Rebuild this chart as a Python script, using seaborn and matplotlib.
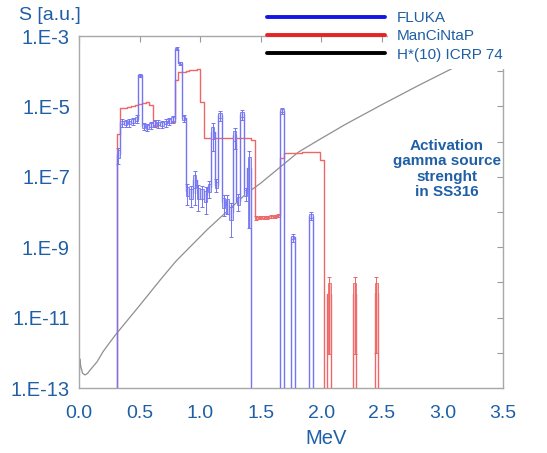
import numpy as np
import pandas as pd
import matplotlib
matplotlib.use("Agg")
import matplotlib.pyplot as plt
from matplotlib.patches import Rectangle
from matplotlib.lines import Line2D
from matplotlib.ticker import NullLocator
import seaborn as sns

# Energy grid shared by both spectra (MeV), 0.03 MeV bins
bin_edges = np.round(0.31 + 0.03 * np.arange(74), 2)

# FLUKA source strength per bin [a.u.] and relative statistical error
fluka_s = [
    4.5e-7, 3.5e-6, 3.4e-6, 3.5e-6, 3.8e-6, 4.5e-6, 7.6e-5, 2.8e-6, 2.6e-6, 3.0e-6,
    3.4e-6, 3.3e-6, 3.2e-6, 3.5e-6, 3.8e-6, 4.4e-6, 4.4e-4, 1.7e-4, 4.7e-6, 4.0e-8,
    3.4e-8, 7.9e-8, 3.5e-8, 3.4e-8, 3.0e-8, 5.0e-8, 1.9e-6, 6.0e-8, 5.6e-6, 1.9e-8,
    1.6e-8, 1.0e-8, 1.5e-6, 2.1e-8, 6.0e-6, 3.5e-8, 1.8e-7, 0, 0, 0,
    0, 0, 0, 0, 0, 7.6e-6, 0, 0, 1.9e-9, 0,
    0, 0, 0, 7.9e-9, 0, 0, 0, 0, 0, 0,
    0, 0, 0, 0, 0, 0, 0, 0, 0, 0,
    0, 0, 0,
]
fluka_rel_err = [
    0.25, 0.12, 0.12, 0.12, 0.12, 0.12, 0.06, 0.12, 0.12, 0.12,
    0.12, 0.12, 0.12, 0.12, 0.12, 0.12, 0.04, 0.05, 0.12, 0.30,
    0.30, 0.40, 0.35, 0.30, 0.35, 0.25, 0.36, 0.20, 0.15, 0.30,
    0.45, 0.40, 0.30, 0.25, 0.15, 0.20, 0.98, 0, 0, 0,
    0, 0, 0, 0, 0, 0.10, 0, 0, 0.12, 0,
    0, 0, 0, 0.12, 0, 0, 0, 0, 0, 0,
    0, 0, 0, 0, 0, 0, 0, 0, 0, 0,
    0, 0, 0,
]

# ManCiNtaP source strength per bin [a.u.] and relative error
mancintap_s = [
    1.66e-6, 8.9e-6, 9.3e-6, 9.8e-6, 1.05e-5, 1.12e-5, 1.17e-5, 1.26e-5, 1.32e-5, 1.07e-5,
    2.8e-6, 2.95e-6, 3.2e-6, 3.3e-6, 3.5e-6, 3.7e-6, 5.6e-5, 9.5e-5, 9.8e-5, 1.02e-4,
    1.05e-4, 1.07e-4, 1.12e-4, 1.35e-5, 1.25e-6, 1.25e-6, 1.24e-6, 1.25e-6, 1.26e-6, 1.25e-6,
    1.24e-6, 1.25e-6, 1.26e-6, 1.25e-6, 1.26e-6, 1.25e-6, 1.24e-6, 1.1e-6, 6.8e-9, 7.0e-9,
    7.2e-9, 7.0e-9, 7.3e-9, 7.5e-9, 7.8e-9, 3.5e-7, 4.8e-7, 4.8e-7, 4.9e-7, 4.9e-7,
    4.9e-7, 5.0e-7, 5.0e-7, 5.0e-7, 5.1e-7, 5.1e-7, 3.0e-7, 0, 4.7e-11, 0,
    0, 0, 0, 0, 0, 4.7e-11, 0, 0, 0, 0,
    0, 4.9e-11, 0,
]
mancintap_rel_err = [
    0, 0, 0, 0, 0, 0, 0, 0, 0, 0,
    0, 0, 0, 0, 0, 0, 0, 0, 0, 0,
    0, 0, 0, 0, 0, 0, 0, 0, 0, 0,
    0, 0, 0, 0, 0, 0, 0, 0, 0.05, 0.05,
    0.05, 0.05, 0.05, 0.05, 0.05, 0, 0, 0, 0, 0,
    0, 0, 0, 0, 0, 0, 0, 0, 0.98, 0,
    0, 0, 0, 0, 0, 0.98, 0, 0, 0, 0,
    0, 0.98, 0,
]

# H*(10) ICRP 74 conversion curve (arbitrary units)
h10_energy = [0.0, 0.006, 0.015, 0.03, 0.05, 0.07, 0.1, 0.15, 0.2, 0.3,
              0.5, 0.67, 0.8, 1.06, 1.38, 1.5, 1.81, 1.98, 2.2, 2.5,
              2.8, 3.1, 3.3]
h10_value = [5e-14, 6.8e-13, 4.0e-13, 2.6e-13, 2.35e-13, 2.6e-13, 3.5e-13, 5.6e-13, 1.1e-12, 3.2e-12,
             2.2e-11, 1.17e-10, 4.0e-10, 3.2e-9, 3.3e-8, 6.6e-8, 5.0e-7, 1.12e-6, 3.1e-6, 1.12e-5,
             3.9e-5, 1.29e-4, 2.75e-4]

y_exponents = list(range(-13, -2))
x_ticks = [0.0, 0.5, 1.0, 1.5, 2.0, 2.5, 3.0, 3.5]
x_ticklabels = ["0.0", "0.5", "1.0", "1.5", "2.0", "2.5", "3.0", "3.5"]

TEXT_BLUE = "#1f5fa5"
FLUKA_LINE = "#7575f2"
FLUKA_FILL = "#cfcffb"
MCN_LINE = "#ee6666"
MCN_FILL = "#f6b9b9"
FLOOR = 1e-14

sns.set_style("white")
plt.rcParams["font.family"] = ["Liberation Sans", "DejaVu Sans"]

fig = plt.figure(figsize=(5.47, 4.53), dpi=100)
ax = fig.add_axes([79 / 547, 65 / 453, 424 / 547, 352 / 453])
ax.set_yscale("log")


def step_frame(values):
    v = np.asarray(values, dtype=float)
    v = np.where(v > 0, v, FLOOR)
    x = np.concatenate([[bin_edges[0]], bin_edges])
    y = np.concatenate([[FLOOR], v, [FLOOR]])
    return pd.DataFrame({"E": x, "S": y})


def error_marks(values, rel, line_color, fill_color, z):
    v = np.asarray(values, dtype=float)
    r = np.asarray(rel, dtype=float)
    m = (v > 0) & (r > 0)
    centers = (bin_edges[:-1] + bin_edges[1:]) / 2
    widths = np.diff(bin_edges)
    lo = np.maximum(v * (1 - r), FLOOR)
    hi = v * (1 + r)
    ax.bar(centers[m], (hi - lo)[m], bottom=lo[m], width=0.9 * widths[m],
           color=fill_color, edgecolor=line_color, linewidth=0.6, zorder=z)
    w_hi = v * (1 + 2 * r)
    w_lo = np.where(r < 0.45, v * (1 - 2 * r), lo)
    ax.errorbar(centers[m], v[m], yerr=[v[m] - w_lo[m], w_hi[m] - v[m]],
                fmt="none", ecolor=line_color, elinewidth=0.7,
                capsize=1.6, capthick=0.7, zorder=z)


# H*(10) curve
sns.lineplot(x=h10_energy, y=h10_value, color="#8f8f8f", lw=0.9,
             estimator=None, sort=False, ax=ax, zorder=2)

# ManCiNtaP spectrum
sns.lineplot(data=step_frame(mancintap_s), x="E", y="S", drawstyle="steps-post",
             estimator=None, sort=False, color=MCN_LINE, lw=1.0, ax=ax, zorder=3)
error_marks(mancintap_s, mancintap_rel_err, MCN_LINE, MCN_FILL, 3)

# FLUKA spectrum
sns.lineplot(data=step_frame(fluka_s), x="E", y="S", drawstyle="steps-post",
             estimator=None, sort=False, color=FLUKA_LINE, lw=1.0, ax=ax, zorder=4)
error_marks(fluka_s, fluka_rel_err, FLUKA_LINE, FLUKA_FILL, 4)

ax.set_xlim(0, 3.5)
ax.set_ylim(1e-13, 1e-3)
ax.set_xlabel("")
ax.set_ylabel("")

ax.set_xticks(x_ticks)
ax.set_xticklabels(x_ticklabels)
ax.set_yticks([10.0 ** e for e in y_exponents])
ax.set_yticklabels([f"1.E{e}" if e % 2 else "" for e in y_exponents])
ax.yaxis.set_minor_locator(NullLocator())
ax.xaxis.set_minor_locator(NullLocator())

ax.tick_params(which="both", direction="in", length=4, width=0.8,
               color="#9a9a9a", top=True, right=True, labelcolor=TEXT_BLUE)
ax.tick_params(axis="x", labelsize=14, pad=12)
ax.tick_params(axis="y", labelsize=14.5, pad=6.5)
for s in ax.spines.values():
    s.set_color("#a8a8a8")
    s.set_linewidth(1.0)

# axis titles
fig.text(19 / 547, 1 - 15 / 453, "S [a.u.]", fontsize=14, color=TEXT_BLUE,
         ha="left", va="center")
fig.text(326 / 547, 1 - 439 / 453, "MeV", fontsize=14.5, color=TEXT_BLUE,
         ha="center", va="center")

# annotation
ax.text(447 / 547, 1 - 169 / 453, "Activation\ngamma source\nstrenght\nin SS316",
        transform=fig.transFigure, fontsize=11, fontweight="bold", color=TEXT_BLUE,
        ha="center", va="center", linespacing=1.13)

# white panel behind the legend labels
fig.add_artist(Rectangle((388 / 547, 1 - 69 / 453), 159 / 547, 69 / 453,
                         transform=fig.transFigure, facecolor="white",
                         edgecolor="none", zorder=2))

handles = [Line2D([], [], color="#1414e6", lw=2.8),
           Line2D([], [], color="#e82222", lw=2.8),
           Line2D([], [], color="black", lw=2.8)]
fig.legend(handles, ["FLUKA", "ManCiNtaP", "H*(10) ICRP 74"],
           loc="upper left", bbox_to_anchor=(267 / 547, 1 - 11 / 453),
           frameon=False, fontsize=11, labelcolor=TEXT_BLUE,
           handlelength=7.7, handletextpad=0.8, labelspacing=0.28,
           borderpad=0, borderaxespad=0)

fig.savefig("out.png", dpi=100)
